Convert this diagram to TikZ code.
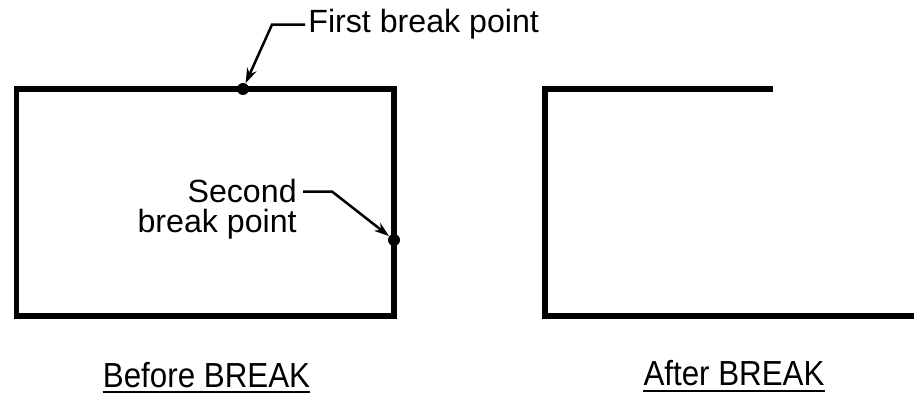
\documentclass[tikz,border=0pt]{standalone}
\usepackage{fontspec}
\setmainfont{Liberation Sans}
\newfontfamily\narrowsans[FakeStretch=0.9]{Liberation Sans}
\usetikzlibrary{arrows.meta,positioning}

\begin{document}
\begin{tikzpicture}[
    outline/.style={line width=0.11cm, line cap=butt, line join=miter},
    leader/.style={line width=0.05cm, -{Stealth[length=0.3cm, width=0.2cm]}},
    dot/.style={circle, fill=black, minimum size=0.24cm, inner sep=0pt},
    label/.style={inner sep=0pt, font=\fontsize{18.3}{17}\selectfont},
    caption/.style={inner sep=0pt, anchor=base, font=\narrowsans\fontsize{19.8}{17}\selectfont}
  ]
  \useasboundingbox (0,0) rectangle (18.28,7.88);

  % Before: closed rectangle with the two break points
  \draw[outline] (0.33,1.56) rectangle (7.88,6.10);
  \node[dot] (firstdot) at (4.86,6.10) {};
  \node[dot] (seconddot) at (7.88,3.08) {};

  % Labels of the break points
  \node[label, anchor=base west] (firstlbl) at (6.16,7.22) {First break point};
  \node[label, anchor=base east] (secondlbl) at (5.94,3.82) {Second};
  \node[label, anchor=base east] (breaklbl) at (5.94,3.22) {break point};

  % Leaders
  \draw[leader] ([xshift=-0.06cm]firstlbl.west) -- ++(-0.66,0) -- (firstdot);
  \draw[leader] ([xshift=0.12cm]secondlbl.east) -- ++(0.58,0) -- (seconddot);

  % After: open shape
  \draw[outline] (15.46,6.10) -- (10.90,6.10) -- (10.90,1.56) -- (18.28,1.56);

  % Captions
  \node[caption] (before) at (4.13,0.14) {Before BREAK};
  \node[caption] (after) at (14.68,0.18) {After BREAK};
  \draw[line width=0.05cm] ([yshift=-0.1cm]before.base west) -- ([yshift=-0.1cm]before.base east);
  \draw[line width=0.05cm] ([yshift=-0.12cm]after.base west) -- ([yshift=-0.12cm]after.base east);
\end{tikzpicture}
\end{document}
